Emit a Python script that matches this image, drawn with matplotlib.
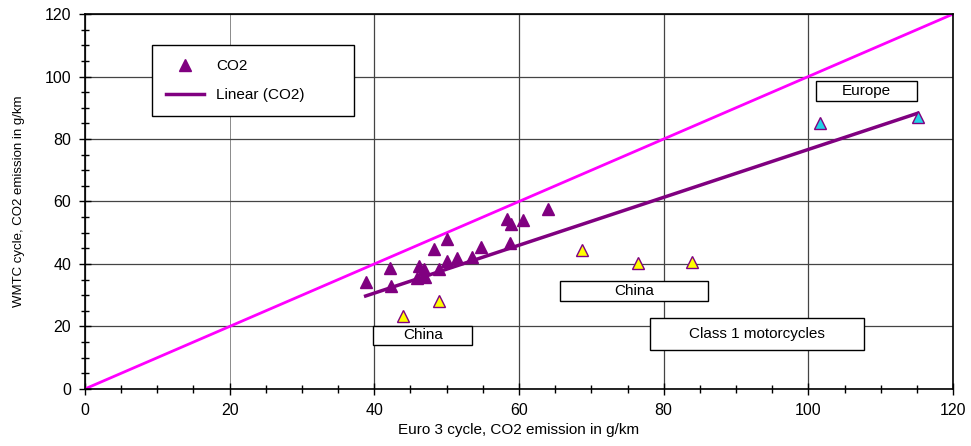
import numpy as np
import matplotlib.pyplot as plt
import matplotlib.patches as patches
from matplotlib.ticker import MultipleLocator

plt.rcParams['font.family'] = ['Liberation Sans', 'DejaVu Sans']

# Class 1 motorcycles, main group
co2_x = [38.8, 42.2, 42.3, 46.2, 45.9, 46.9, 47.0, 48.3, 49.0, 50.0, 50.1,
         51.4, 53.5, 54.7, 58.4, 58.9, 58.8, 60.5, 64.0]
co2_y = [34.3, 38.6, 33.0, 39.4, 35.6, 38.3, 35.9, 44.8, 38.3, 41.0, 48.0,
         42.0, 42.1, 45.3, 54.3, 52.7, 46.6, 54.1, 57.5]
# China points
china_x = [43.9, 49.0, 68.7, 76.5, 83.9]
china_y = [23.4, 28.3, 44.5, 40.2, 40.7]
# Europe points
europe_x = [101.6, 115.1]
europe_y = [85.2, 86.9]

# text boxes: label, centre x, centre y, width, height (data units)
boxes = [
    ('China', 46.7, 17.1, 13.7, 6.2),
    ('China', 75.9, 31.4, 20.5, 6.2),
    ('Europe', 108.0, 95.4, 14.0, 6.2),
    ('Class 1 motorcycles', 92.9, 17.6, 29.6, 10.2),
]

purple = '#800080'

fig = plt.figure(figsize=(9.71, 4.46), dpi=100)
ax = fig.add_axes([0.0875, 0.128, 0.894, 0.8405])

# y = x reference line
ax.plot([0, 120], [0, 120], color='#FF00FF', linewidth=2, zorder=2)

# linear trend (through origin) over all CO2 points
all_x = np.array(co2_x + china_x + europe_x)
all_y = np.array(co2_y + china_y + europe_y)
k = np.sum(all_x * all_y) / np.sum(all_x ** 2)
tx = np.array([all_x.min(), all_x.max()])
ax.plot(tx, k * tx, color=purple, linewidth=2.5, zorder=3, label='Linear (CO2)')

ax.plot(co2_x, co2_y, '^', color=purple, markersize=9, linestyle='none',
        zorder=4, label='CO2')
ax.plot(china_x, china_y, '^', markerfacecolor='#FFFF00', markeredgecolor=purple,
        markersize=9, markeredgewidth=1, linestyle='none', zorder=4)
ax.plot(europe_x, europe_y, '^', markerfacecolor='#22D3E6', markeredgecolor=purple,
        markersize=9, markeredgewidth=1, linestyle='none', zorder=4)

ax.set_xlim(0, 120)
ax.set_ylim(0, 120)
ax.xaxis.set_major_locator(MultipleLocator(20))
ax.xaxis.set_minor_locator(MultipleLocator(5))
ax.yaxis.set_major_locator(MultipleLocator(20))
ax.yaxis.set_minor_locator(MultipleLocator(5))
ax.tick_params(which='major', direction='inout', length=8, width=1, labelsize=11.5,
               top=False, right=False, pad=6)
ax.tick_params(which='minor', direction='inout', length=6, width=1,
               top=False, right=False)
ax.grid(True, which='major', color='#444444', linewidth=0.9, zorder=0)
# the 40 gridline is drawn fainter in the original
ax.get_xgridlines()[2].set_color('#777777')
ax.get_xgridlines()[2].set_linewidth(0.6)
for s in ax.spines.values():
    s.set_linewidth(1.2)
    s.set_color('black')

ax.set_xlabel('Euro 3 cycle, CO2 emission in g/km', fontsize=11)
ax.set_ylabel('WMTC cycle, CO2 emission in g/km', fontsize=9.5, labelpad=14)

# annotation boxes
for label, cx, cy, w, h in boxes:
    ax.add_patch(patches.Rectangle((cx - w / 2, cy - h / 2), w, h, facecolor='white',
                                   edgecolor='black', linewidth=1, zorder=5))
    ax.text(cx, cy, label, fontsize=11, ha='center', va='center', zorder=6)

h, l = ax.get_legend_handles_labels()
leg = ax.legend(h[::-1], l[::-1], loc='upper left', bbox_to_anchor=(0.0775, 0.917, 0.233, 0.0),
                mode='expand', fontsize=11, frameon=True, fancybox=False,
                edgecolor='black', framealpha=1, borderpad=0.9, labelspacing=1.0,
                handlelength=2.5, borderaxespad=0)
leg.get_frame().set_linewidth(1)
leg.set_zorder(6)

fig.savefig('out.png', dpi=100)
